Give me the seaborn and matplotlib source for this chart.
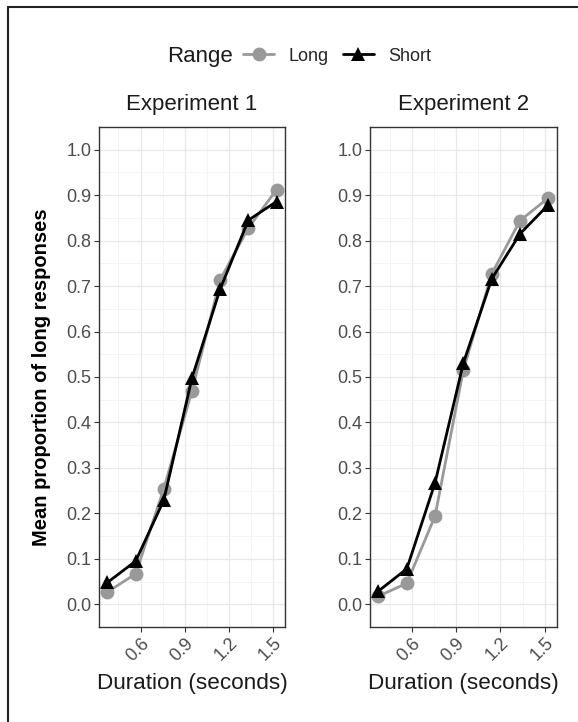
import numpy as np
import pandas as pd
import seaborn as sns
import matplotlib.pyplot as plt
from matplotlib.lines import Line2D
from matplotlib.ticker import MultipleLocator

# data
duration = [0.375, 0.567, 0.758, 0.950, 1.142, 1.333, 1.525]
exp1_long = [0.027, 0.067, 0.254, 0.470, 0.714, 0.828, 0.912]
exp1_short = [0.048, 0.095, 0.229, 0.498, 0.694, 0.845, 0.886]
exp2_long = [0.018, 0.046, 0.194, 0.516, 0.727, 0.844, 0.894]
exp2_short = [0.029, 0.078, 0.267, 0.531, 0.716, 0.815, 0.879]
experiments = ['Experiment 1', 'Experiment 2']
ranges = ['Long', 'Short']
x_ticks = [0.6, 0.9, 1.2, 1.5]
y_ticks = [0.0, 0.1, 0.2, 0.3, 0.4, 0.5, 0.6, 0.7, 0.8, 0.9, 1.0]

rows = []
for exp, long_vals, short_vals in zip(experiments, [exp1_long, exp2_long], [exp1_short, exp2_short]):
    for d, l, s in zip(duration, long_vals, short_vals):
        rows.append({'experiment': exp, 'duration': d, 'range': 'Long', 'prop': l})
        rows.append({'experiment': exp, 'duration': d, 'range': 'Short', 'prop': s})
df = pd.DataFrame(rows)

sns.set_theme(style='white')
plt.rcParams['font.family'] = ['Liberation Sans', 'DejaVu Sans']

palette = {'Long': '#999999', 'Short': 'black'}
markers = {'Long': 'o', 'Short': '^'}

fig = plt.figure(figsize=(5.78, 7.22), dpi=100)
ax_pos = [[0.1713, 0.1316, 0.3218, 0.6925], [0.640, 0.1316, 0.3235, 0.6925]]

for i, exp in enumerate(experiments):
    ax = fig.add_axes(ax_pos[i])
    ax.set_axisbelow(True)
    sub = df[df['experiment'] == exp]
    sns.lineplot(data=sub, x='duration', y='prop', hue='range', style='range',
                 hue_order=ranges, style_order=ranges, palette=palette,
                 markers=markers, dashes=False, markersize=10, linewidth=2,
                 markeredgewidth=0, legend=False, ax=ax)
    ax.set_xlim(0.3175, 1.5825)
    ax.set_ylim(-0.05, 1.05)
    ax.set_xticks(x_ticks)
    ax.set_xticklabels([str(t) for t in x_ticks], rotation=45, ha='right',
                       rotation_mode='anchor')
    ax.set_yticks(y_ticks)
    ax.set_yticklabels([f'{t:.1f}' for t in y_ticks])
    ax.xaxis.set_minor_locator(MultipleLocator(0.15))
    ax.yaxis.set_minor_locator(MultipleLocator(0.05))
    ax.grid(True, which='major', color='#e8e8e8', linewidth=0.9)
    ax.grid(True, which='minor', color='#f2f2f2', linewidth=0.6)
    ax.tick_params(axis='both', which='major', length=3.5, width=0.8, color='#333333',
                   labelsize=13, labelcolor='#4d4d4d', direction='out',
                   bottom=True, left=True, pad=2)
    ax.tick_params(which='minor', length=0)
    for sp in ax.spines.values():
        sp.set_color('#333333')
        sp.set_linewidth(1.0)
    ax.set_xlabel('Duration (seconds)', fontsize=16.2, color='#1a1a1a', labelpad=6)
    ax.set_ylabel('')
    ax.set_title(exp, fontsize=16, color='#1a1a1a', pad=12)

fig.text(0.072, 0.4781, 'Mean proportion of long responses', rotation=90,
         fontsize=14.5, fontweight='bold', ha='center', va='center', color='black')

# legend
fig.text(0.29, 0.922, 'Range', fontsize=16, ha='left', va='center', color='#1a1a1a')
handles = [Line2D([], [], color=palette[r], marker=markers[r], markersize=10,
                  markeredgewidth=0, linewidth=2) for r in ranges]
fig.legend(handles, ranges, ncol=2, frameon=False, loc='center left',
           bbox_to_anchor=(0.421, 0.922), fontsize=13, handlelength=1.7,
           handletextpad=0.8, columnspacing=0.8, borderpad=0, borderaxespad=0)

# outer frame (top and left edges visible)
fig.add_artist(Line2D([8 / 578, 1], [1 - 7 / 722, 1 - 7 / 722], color='#222222',
                      linewidth=1.5, transform=fig.transFigure))
fig.add_artist(Line2D([8 / 578, 8 / 578], [0, 1 - 7 / 722], color='#222222',
                      linewidth=1.5, transform=fig.transFigure))

fig.savefig('out.png', dpi=100)
